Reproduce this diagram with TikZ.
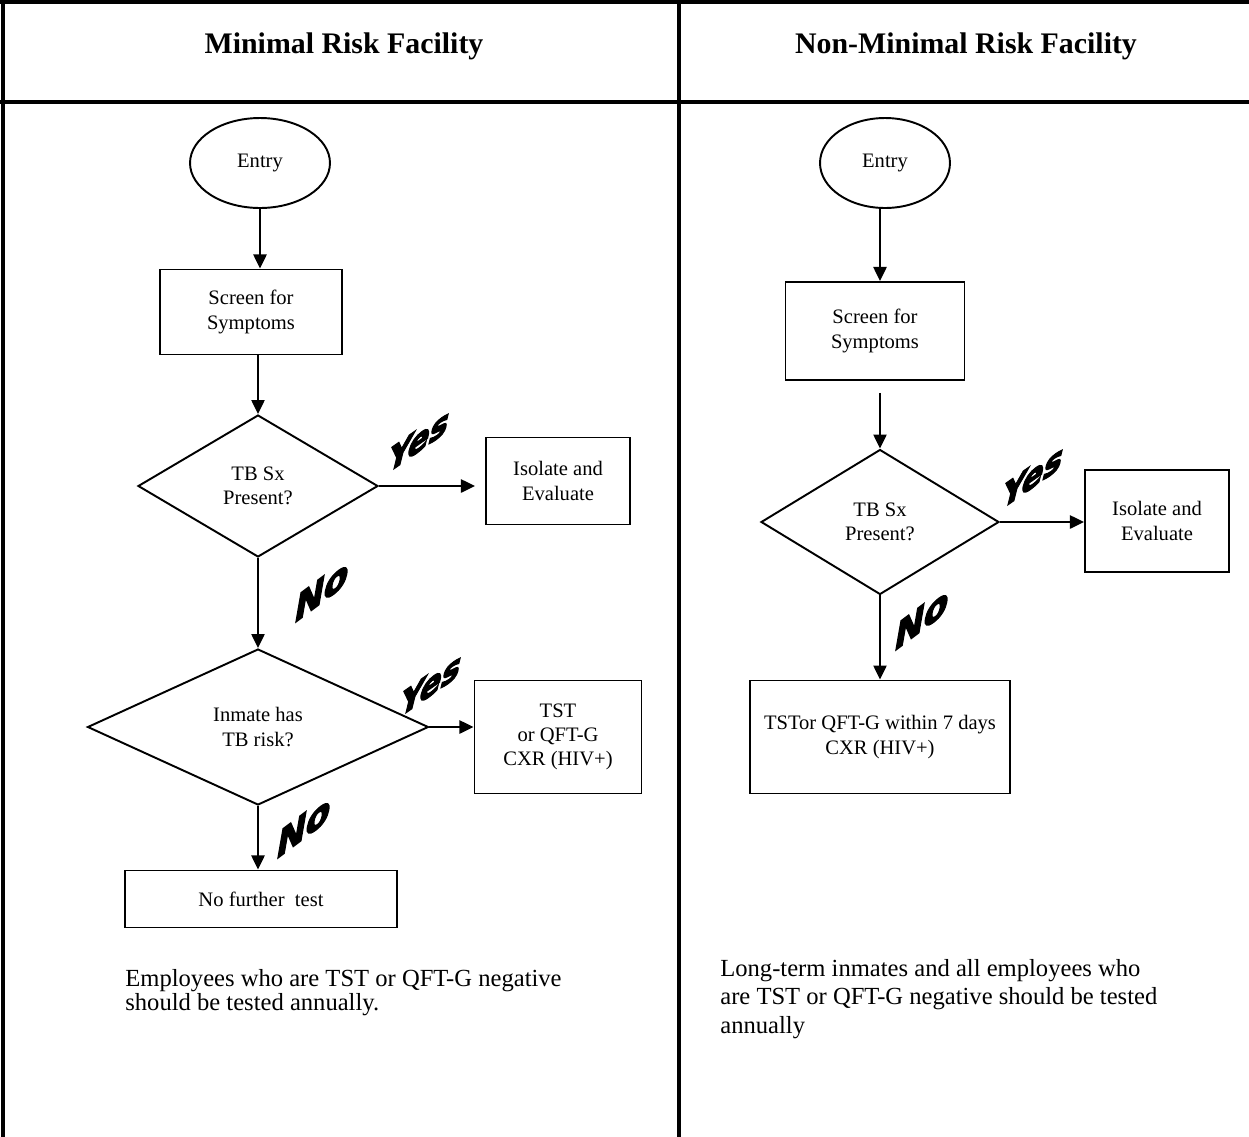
\documentclass[tikz,border=0pt]{standalone}
\usepackage{fontspec}
\setmainfont{Liberation Serif}
\newfontfamily\artfont{DejaVu Sans}[BoldFeatures={FakeBold=4}]
\usetikzlibrary{shapes.geometric,arrows.meta}
\tikzset{
  flowfont/.style={font=\fontsize{11.7}{13.8}\selectfont},
  box/.style={draw, line width=1.1pt, align=center, inner sep=0pt, flowfont},
  decision/.style={diamond, draw, line width=1.1pt, align=center, inner sep=0pt, flowfont},
  startnode/.style={ellipse, draw, line width=1.1pt, inner sep=0pt, flowfont},
  flow/.style={->, line width=1.1pt},
  yesart/.style={font=\artfont\bfseries\fontsize{18}{18}\selectfont, yslant=0.7, xslant=0.3, inner sep=0pt},
  noart/.style={font=\artfont\bfseries\fontsize{20}{20}\selectfont, yslant=0.75, xslant=0.2, inner sep=0pt},
  note/.style={anchor=north west, align=left, inner sep=0pt}
}
\begin{document}
\begin{tikzpicture}[x=0.02cm, y=-0.02cm, >={Triangle[length=8pt,width=7.5pt]}]
\useasboundingbox (0,0) rectangle (1249,1137);
% table
\draw[line width=2.8pt] (0,2) -- (1249,2);
\draw[line width=2.3pt] (3,0) -- (3,1137);
\draw[line width=1.8pt] (679,0) -- (679,1137);
\draw[line width=2.3pt] (0,102) -- (1249,102);
\node[font=\bfseries\fontsize{17}{20}\selectfont] (headA) at (344,46) {Minimal Risk Facility};
\node[font=\bfseries\fontsize{17}{20}\selectfont] (headB) at (966,46) {Non-Minimal Risk Facility};

% minimal risk
\node[startnode, minimum width=2.8cm, minimum height=1.8cm] (entryA) at (260,163) {Entry};
\node[box, minimum width=3.64cm, minimum height=1.7cm] (screenA) at (251,312) {Screen for\\Symptoms};
\node[decision, minimum width=4.8cm, minimum height=2.84cm] (sxA) at (258,486) {TB Sx\\Present?};
\node[box, minimum width=2.88cm, minimum height=1.74cm] (isolateA) at (558,481) {Isolate and\\Evaluate};
\node[decision, minimum width=6.82cm, minimum height=3.12cm] (riskA) at (258,727) {Inmate has\\TB risk?};
\node[box, minimum width=3.34cm, minimum height=2.26cm] (testA) at (558,737) {TST\\or QFT-G\\CXR (HIV+)};
\node[box, minimum width=5.44cm, minimum height=1.14cm] (nofurtherA) at (261,899) {No further\ \ test};
\draw[flow] (entryA.south) -- (entryA.south |- screenA.north);
\draw[flow] (screenA.south -| sxA) -- (sxA.north);
\draw[flow, shorten >=0.2cm] (sxA.east) -- (isolateA.west |- sxA.east);
\draw[flow] (sxA.south) -- (riskA.north);
\draw[flow] (riskA.east) -- (testA.west |- riskA.east);
\draw[flow] (riskA.south) -- (riskA.south |- nofurtherA.north);
\node[yesart] (yesA1) at (419,440) {Yes};
\node[noart] (noA1) at (322,590) {No};
\node[yesart] (yesA2) at (431,684) {Yes};
\node[noart] (noA2) at (304,826) {No};
\node[note, font=\fontsize{14}{13.6}\selectfont] (noteA) at (125,969) {Employees who are TST or QFT-G negative\\should be tested annually.};

% non-minimal risk
\node[startnode, minimum width=2.6cm, minimum height=1.8cm] (entryB) at (885,163) {Entry};
\node[box, minimum width=3.58cm, minimum height=1.96cm] (screenB) at (875,331) {Screen for\\Symptoms};
\node[decision, minimum width=4.76cm, minimum height=2.9cm] (sxB) at (880,522) {TB Sx\\Present?};
\node[box, minimum width=2.88cm, minimum height=2.04cm] (isolateB) at (1157,521) {Isolate and\\Evaluate};
\node[box, minimum width=5.2cm, minimum height=2.26cm] (testB) at (880,737) {TSTor QFT-G within 7 days\\CXR (HIV+)};
\draw[flow] (entryB.south -| sxB) -- (sxB |- screenB.north);
\draw[flow, shorten <=0.24cm] (screenB.south -| sxB) -- (sxB.north);
\draw[flow] (sxB.east) -- (isolateB.west |- sxB.east);
\draw[flow] (sxB.south) -- (testB.north);
\node[yesart] (yesB) at (1033,476) {Yes};
\node[noart] (noB) at (922,618) {No};
\node[note, font=\fontsize{14}{16.2}\selectfont] (noteB) at (720,959) {Long-term inmates and all employees who\\are TST or QFT-G negative should be tested\\annually};
\end{tikzpicture}
\end{document}
